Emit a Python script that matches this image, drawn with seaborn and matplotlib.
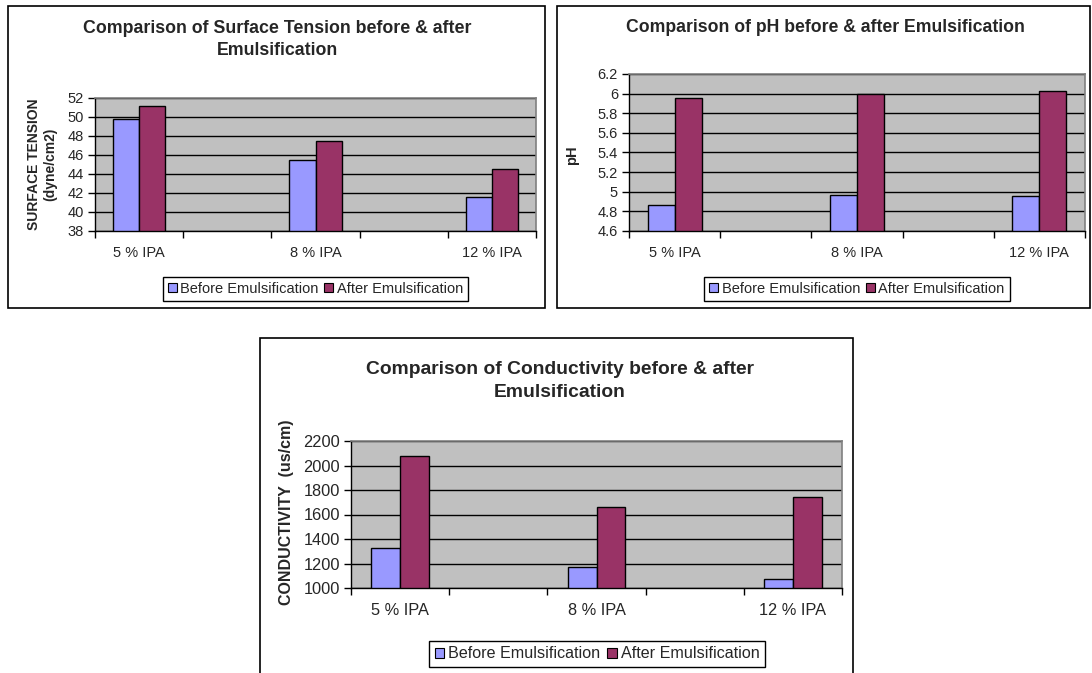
import matplotlib
matplotlib.use("Agg")
import matplotlib.pyplot as plt
import seaborn as sns
import pandas as pd
from matplotlib.patches import Rectangle, Patch

# ---------------- data ----------------
categories = ["5 % IPA", "8 % IPA", "12 % IPA"]
slots = ["5 % IPA", " ", "8 % IPA", "  ", "12 % IPA"]   # Excel chart has empty categories between
series_names = ["Before Emulsification", "After Emulsification"]

surface_before = [49.75, 45.45, 41.6]
surface_after = [51.1, 47.5, 44.5]
surface_ticks = [38, 40, 42, 44, 46, 48, 50, 52]
surface_ticklabels = ["38", "40", "42", "44", "46", "48", "50", "52"]

ph_before = [4.87, 4.97, 4.96]
ph_after = [5.96, 6.0, 6.03]
ph_ticks = [4.6, 4.8, 5.0, 5.2, 5.4, 5.6, 5.8, 6.0, 6.2]
ph_ticklabels = ["4.6", "4.8", "5", "5.2", "5.4", "5.6", "5.8", "6", "6.2"]

cond_before = [1325, 1175, 1070]
cond_after = [2080, 1660, 1740]
cond_ticks = [1000, 1200, 1400, 1600, 1800, 2000, 2200]
cond_ticklabels = ["1000", "1200", "1400", "1600", "1800", "2000", "2200"]

titles = ["Comparison of Surface Tension before & after\nEmulsification",
          "Comparison of pH before & after Emulsification",
          "Comparison of Conductivity before & after\nEmulsification"]
ylabels = ["SURFACE TENSION\n(dyne/cm2)", "pH", "CONDUCTIVITY  (us/cm)"]

colors = ["#9999FF", "#993366"]

# ---------------- style ----------------
sns.set_style("white")
plt.rcParams["font.family"] = ["Liberation Sans", "DejaVu Sans"]

W, H = 1092, 673
fig = plt.figure(figsize=(W / 100, H / 100), dpi=100)
fig.patch.set_facecolor("white")


def fx(x):
    return x / W


def fy(y):
    return 1 - y / H


def add_axes_px(left, top, right, bottom):
    return fig.add_axes([fx(left), fy(bottom), (right - left) / W, (bottom - top) / H])


def frame(x0, y0, x1, y1):
    fig.patches.append(Rectangle((fx(x0), fy(y1)), (x1 - x0) / W, (y1 - y0) / H,
                                 transform=fig.transFigure, fill=False,
                                 edgecolor="black", linewidth=1.2, zorder=0))


def draw(ax, before, after, ticks, ticklabels, fs, xpad):
    df = pd.DataFrame({
        "cat": categories * 2,
        "series": [series_names[0]] * len(categories) + [series_names[1]] * len(categories),
        "value": list(before) + list(after),
    })
    sns.barplot(data=df, x="cat", y="value", hue="series", order=slots,
                hue_order=series_names, palette=colors, width=0.59,
                edgecolor="black", linewidth=1, saturation=1, legend=False,
                errorbar=None, ax=ax)
    ax.set_facecolor("#C0C0C0")
    ax.set_ylim(ticks[0], ticks[-1])
    ax.set_yticks(ticks)
    ax.set_yticklabels(ticklabels, fontsize=fs)
    ax.set_axisbelow(True)
    ax.yaxis.grid(True, color="black", linewidth=1)
    ax.xaxis.grid(False)
    ax.set_xlim(-0.5, len(slots) - 0.5)
    ax.set_xticks([i - 0.5 for i in range(len(slots) + 1)])
    ax.set_xticklabels([])
    ax.set_xticks([0, 2, 4], minor=True)
    ax.set_xticklabels(categories, minor=True, fontsize=fs)
    ax.tick_params(axis="x", which="major", length=5, width=1, direction="out", color="black")
    ax.tick_params(axis="x", which="minor", length=0, pad=xpad)
    ax.tick_params(axis="y", length=5, width=1, direction="out", color="black", pad=3)
    ax.tick_params(left=True, bottom=True)
    ax.set_xlabel("")
    ax.set_ylabel("")
    for s in ["left", "bottom"]:
        ax.spines[s].set_color("black")
        ax.spines[s].set_linewidth(1)
    for s in ["top", "right"]:
        ax.spines[s].set_color("#808080")
        ax.spines[s].set_linewidth(1.2)
        ax.spines[s].set_visible(True)


def legend_at(cx, cy, fs):
    handles = [Patch(facecolor=c, edgecolor="black", linewidth=0.8) for c in colors]
    leg = fig.legend(handles, series_names, loc="center", bbox_to_anchor=(fx(cx), fy(cy)),
                     bbox_transform=fig.transFigure, ncol=2, fontsize=fs,
                     frameon=True, fancybox=False, edgecolor="black", framealpha=1,
                     handlelength=0.6, handleheight=0.6, handletextpad=0.25,
                     columnspacing=0.4, borderpad=0.35, borderaxespad=0)
    leg.get_frame().set_linewidth(1)


# ---------------- chart 1 ----------------
frame(8, 6, 545, 308)
ax1 = add_axes_px(95, 97.7, 536, 231)
draw(ax1, surface_before, surface_after, surface_ticks, surface_ticklabels, 10.5, 10.5)
fig.text(fx(277), fy(39.5), titles[0], ha="center", va="center", fontsize=12.8,
         fontweight="bold", linespacing=1.38)
fig.text(fx(42), fy(164), ylabels[0], ha="center", va="center", rotation=90,
         fontsize=10, fontweight="bold", linespacing=1.25)
legend_at(315.5, 289, 10.5)

# ---------------- chart 2 ----------------
frame(557, 6, 1090, 308)
ax2 = add_axes_px(629, 74, 1085, 231)
draw(ax2, ph_before, ph_after, ph_ticks, ph_ticklabels, 10.5, 10.5)
fig.text(fx(825), fy(28), titles[1], ha="center", va="center", fontsize=12.7,
         fontweight="bold")
fig.text(fx(572), fy(155), ylabels[1], ha="center", va="center", rotation=90,
         fontsize=10.5, fontweight="bold")
legend_at(857, 289, 10.5)

# ---------------- chart 3 ----------------
frame(260, 338, 853, 676)
ax3 = add_axes_px(351, 441, 842, 588)
draw(ax3, cond_before, cond_after, cond_ticks, cond_ticklabels, 11.8, 11)
fig.text(fx(560), fy(381), titles[2], ha="center", va="center", fontsize=13.9,
         fontweight="bold", linespacing=1.45)
fig.text(fx(287), fy(512), ylabels[2], ha="center", va="center", rotation=90,
         fontsize=11.5, fontweight="bold")
legend_at(597, 654, 11.6)

fig.savefig("out.png", dpi=100)
